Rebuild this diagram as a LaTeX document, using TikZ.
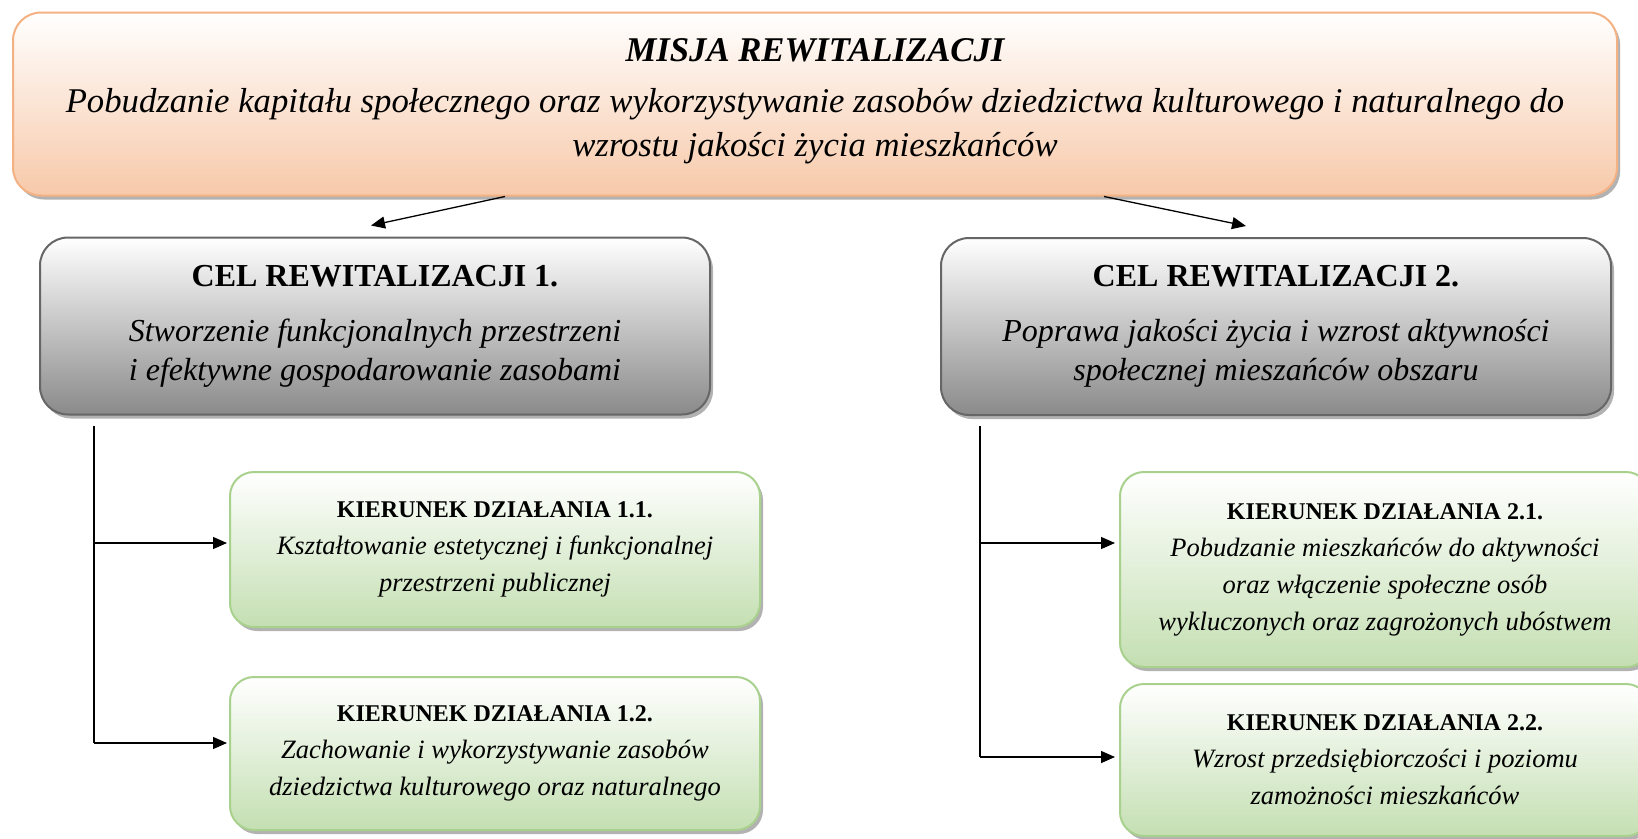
\documentclass[tikz,border=0pt]{standalone}
\usepackage{fontspec}
\setmainfont{Liberation Serif}
\usetikzlibrary{shadows,arrows.meta,calc}
\definecolor{peachB}{HTML}{F7C9A9}
\definecolor{peachD}{HTML}{F4B183}
\definecolor{greyB}{HTML}{8A8A8A}
\definecolor{greyD}{HTML}{666666}
\definecolor{greenB}{HTML}{C4DFB2}
\definecolor{greenD}{HTML}{A9D18E}
\begin{document}
\begin{tikzpicture}[x=1pt,y=-1pt,
  box/.style={rectangle, rounded corners=28pt, align=center, inner sep=0pt, line width=2pt,
    drop shadow={shadow xshift=3pt, shadow yshift=-4pt, fill=black, opacity=0.3}},
  misja/.style={box, draw=peachD, top color=white, bottom color=peachB,
    minimum width=1604pt, minimum height=183pt},
  misjatext/.style={align=center, inner sep=0pt, yshift=2.5pt, font=\fontsize{34.7}{44}\selectfont\itshape},
  cel/.style={box, draw=greyD, top color=white, bottom color=greyB,
    minimum width=670pt, minimum height=177pt, font=\fontsize{32}{39}\selectfont\itshape},
  kier/.style={box, rounded corners=24pt, draw=greenD, top color=white, bottom color=greenB,
    minimum width=530pt, font=\fontsize{26.5}{37}\selectfont\itshape},
  conn/.style={line width=1.3pt, -{Triangle[length=14pt,width=12pt]}},
  trunk/.style={line width=1.7pt},
]
\useasboundingbox (0,0) rectangle (1638,838);

\node[misja, label={[name=misjaT, misjatext]center:{\bfseries MISJA REWITALIZACJI}\\[7pt]
  Pobudzanie kapitału społecznego oraz wykorzystywanie zasobów dziedzictwa kulturowego i naturalnego do\\
  wzrostu jakości życia mieszkańców}] (misja) at (815,104) {};

\node[cel] (cel1) at (375,326) {{\upshape\bfseries\fontsize{32}{40}\selectfont CEL REWITALIZACJI 1.}\\[16pt]
  Stworzenie funkcjonalnych przestrzeni\\ i efektywne gospodarowanie zasobami};
\node[cel] (cel2) at (1276,326.5) {{\upshape\bfseries\fontsize{32}{40}\selectfont CEL REWITALIZACJI 2.}\\[16pt]
  Poprawa jakości życia i wzrost aktywności\\ społecznej mieszańców obszaru};

\node[kier, minimum height=155pt] (k11) at (495,549.5) {{\upshape\bfseries\fontsize{24}{30}\selectfont KIERUNEK DZIAŁANIA 1.1.}\\[0pt]
  Kształtowanie estetycznej i funkcjonalnej\\ przestrzeni publicznej};
\node[kier, minimum height=153pt] (k12) at (495,753.5) {{\upshape\bfseries\fontsize{24}{30}\selectfont KIERUNEK DZIAŁANIA 1.2.}\\[0pt]
  Zachowanie i wykorzystywanie zasobów\\ dziedzictwa kulturowego oraz naturalnego};
\node[kier, minimum height=195pt] (k21) at (1385,569.5) {{\upshape\bfseries\fontsize{24}{30}\selectfont KIERUNEK DZIAŁANIA 2.1.}\\[0pt]
  Pobudzanie mieszkańców do aktywności\\ oraz włączenie społeczne osób\\ wykluczonych oraz zagrożonych ubóstwem};
\node[kier, minimum height=152pt] (k22) at (1385,760) {{\upshape\bfseries\fontsize{24}{30}\selectfont KIERUNEK DZIAŁANIA 2.2.}\\[0pt]
  Wzrost przedsiębiorczości i poziomu\\ zamożności mieszkańców};

% arrows from mission
\coordinate (m1) at ($(misja.south)+(-310,0)$);
\coordinate (m2) at ($(misja.south)+(289,0)$);
\draw[conn] (m1) -- ($(cel1.north)+(-4,-11)$);
\draw[conn] (m2) -- ($(cel2.north)+(-30,-11)$);

% left tree
\coordinate (t1) at (94,426);
\coordinate (t1a) at (94,543);
\coordinate (t1b) at (94,743);
\draw[trunk] (t1) -- (t1b);
\draw[conn] (t1a) -- ($(k11.west |- t1a)+(-2,0)$);
\draw[conn] (t1b) -- ($(k12.west |- t1b)+(-2,0)$);

% right tree
\coordinate (t2) at (980,426);
\coordinate (t2a) at (980,543);
\coordinate (t2b) at (980,757);
\draw[trunk] (t2) -- (t2b);
\draw[conn] (t2a) -- ($(k21.west |- t2a)+(-4,0)$);
\draw[conn] (t2b) -- ($(k22.west |- t2b)+(-4,0)$);
\end{tikzpicture}
\end{document}
